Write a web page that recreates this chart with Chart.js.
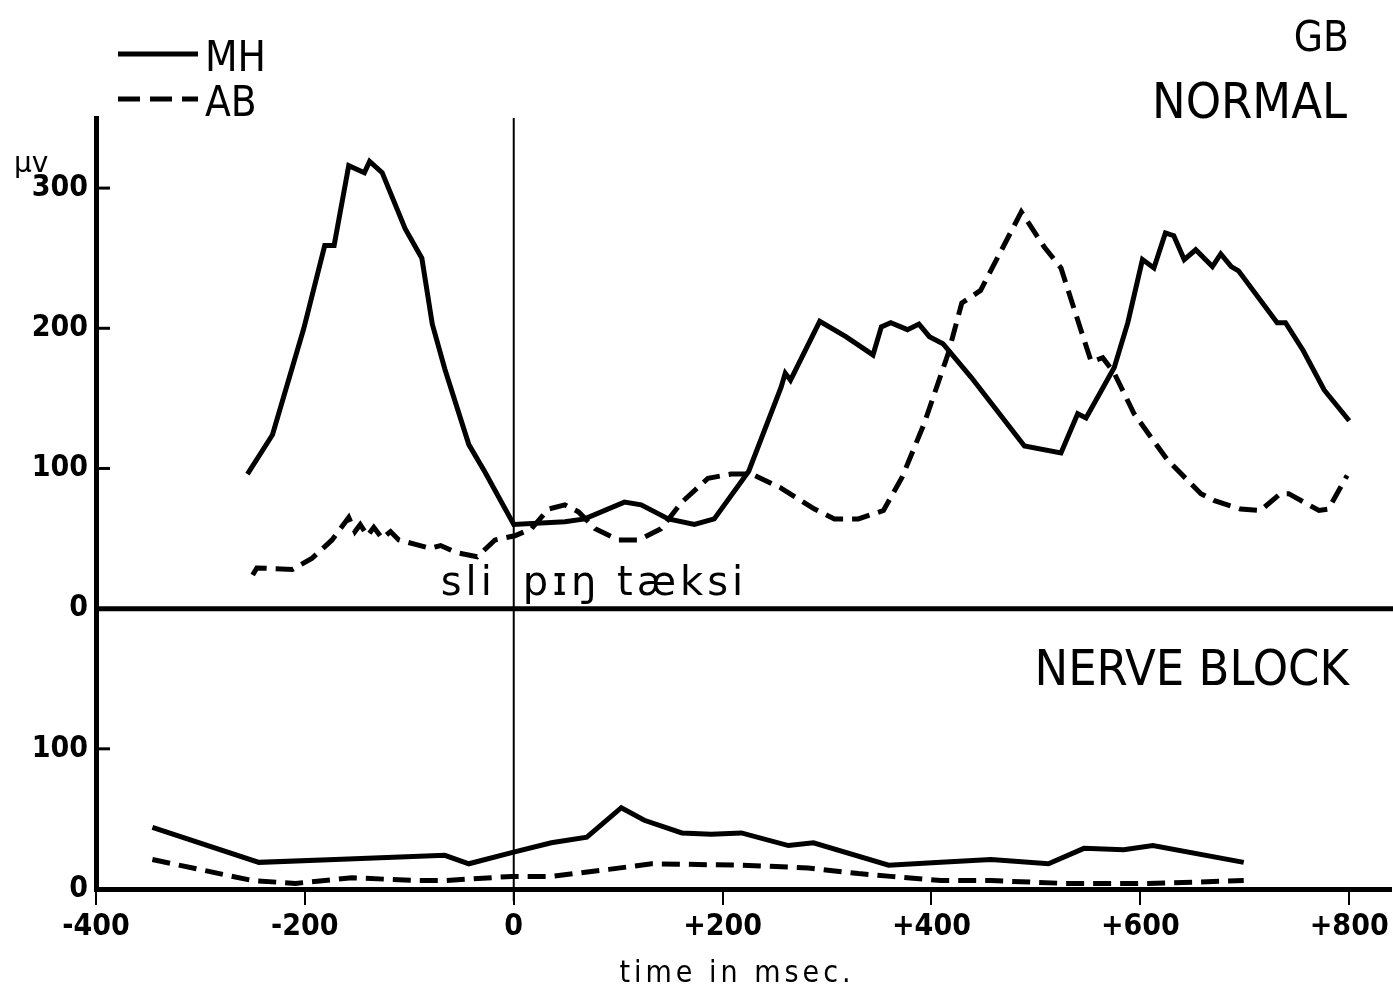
<!DOCTYPE html>
<html>
<head>
<meta charset="utf-8">
<script src="https://cdn.jsdelivr.net/npm/chart.js@4/dist/chart.umd.min.js"></script>
<style>
  body { margin: 0; background: #fff; }
  canvas { display: block; }
</style>
</head>
<body>
<canvas id="chart" width="1393" height="989"></canvas>
<script>
// tick labels
const xTicks = [-400, -200, 0, 200, 400, 600, 800];
const topTicks = [0, 100, 200, 300];
const botTicks = [0, 100];

// NORMAL - MH (solid)
const mhNormalT = [-255, -231, -201, -181, -172, -158, -143, -138, -126, -104, -88, -78, -66, -43, -28, 0, 49, 68, 106, 122, 148, 173, 192, 225, 256, 260, 265, 293, 318, 344, 352, 361, 377, 388, 398, 411, 438, 489, 524, 540, 548, 575, 588, 602, 613, 624, 632, 642, 653, 669, 677, 687, 694, 731, 739, 756, 776, 800];
const mhNormalV = [96, 124, 200, 259, 259, 316, 311, 319, 311, 271, 250, 203, 171, 117, 98, 60, 62, 64, 76, 74, 64, 60, 64, 98, 158, 168, 163, 205, 194, 181, 201, 204, 199, 203, 194, 189, 165, 116, 111, 139, 136, 172, 204, 249, 243, 268, 266, 249, 256, 244, 253, 244, 241, 204, 204, 184, 156, 134];

// NORMAL - AB (dashed)
const abNormalT = [-250, -246, -212, -193, -174, -158, -152, -147, -140, -134, -126, -118, -110, -95, -80, -70, -55, -35, -18, 1, 17, 33, 49, 62, 78, 100, 120, 141, 161, 186, 208, 228, 256, 288, 307, 330, 354, 372, 393, 416, 429, 447, 486, 508, 524, 543, 553, 564, 575, 594, 626, 658, 671, 696, 715, 734, 742, 771, 780, 798];
const abNormalV = [24, 29, 28, 36, 49, 65, 55, 60, 52, 58, 50, 55, 49, 46, 43, 45, 40, 37, 49, 52, 57, 71, 74, 69, 57, 49, 49, 57, 76, 93, 96, 96, 86, 71, 64, 64, 70, 94, 132, 182, 218, 227, 283, 258, 243, 199, 176, 179, 168, 139, 106, 82, 77, 71, 70, 82, 82, 70, 71, 95];

// NERVE BLOCK - MH
const mhBlockT = [-346, -244, -171, -66, -43, -2, 36, 70, 103, 125, 161, 189, 218, 263, 287, 359, 409, 457, 512, 546, 584, 612, 699];
const mhBlockV = [44, 19, 21, 24, 18, 26, 33, 37, 58, 49, 40, 39, 40, 31, 33, 17, 19, 21, 18, 29, 28, 31, 19];

// NERVE BLOCK - AB
const abBlockT = [-346, -250, -209, -155, -91, -66, -2, 36, 91, 132, 218, 282, 330, 361, 409, 457, 527, 607, 655, 699];
const abBlockV = [21, 6, 4, 8, 6, 6, 9, 9, 14, 18, 17, 15, 11, 9, 6, 6, 4, 4, 5, 6];

const COND = "'DejaVu Sans Condensed', 'DejaVu Sans', sans-serif";
const dash = [18, 9];

function pts(t, v) {
    return t.map((x, i) => ({ x: x, y: v[i] }));
}

function line(label, t, v, axis, dashed) {
    return {
        label: label,
        data: pts(t, v),
        yAxisID: axis,
        borderColor: "#000",
        borderWidth: 5,
        borderDash: dashed ? dash : [],
        pointRadius: 0,
        tension: 0,
        fill: false,
    };
}

function setTicks(list) {
    return function (scale) {
        scale.ticks = list.map(v => ({ value: v }));
    };
}

// texts, legend, zero line, inner ticks
const decor = {
    id: "decor",
    afterDraw(chart) {
        const ctx = chart.ctx;
        const area = chart.chartArea;
        const x = chart.scales.x;
        const yTop = chart.scales.yTop;
        const yBot = chart.scales.yBot;
        ctx.save();
        ctx.strokeStyle = "#000";
        ctx.fillStyle = "#000";

        // zero line of the NORMAL panel
        ctx.lineWidth = 5;
        ctx.beginPath();
        ctx.moveTo(area.left, yTop.getPixelForValue(0));
        ctx.lineTo(chart.width, yTop.getPixelForValue(0));
        ctx.stroke();

        // inward y ticks
        ctx.lineWidth = 3;
        [[yTop, topTicks], [yBot, botTicks]].forEach(([s, list]) => {
            list.filter(v => v > 0).forEach(v => {
                const py = s.getPixelForValue(v);
                ctx.beginPath();
                ctx.moveTo(area.left, py);
                ctx.lineTo(area.left + 14, py);
                ctx.stroke();
            });
        });

        // time zero
        const x0 = x.getPixelForValue(0);
        ctx.lineWidth = 2;
        ctx.beginPath();
        ctx.moveTo(x0, area.top);
        ctx.lineTo(x0, area.bottom + 12);
        ctx.stroke();

        // legend
        chart.data.datasets.slice(0, 2).forEach((ds, i) => {
            const ly = 54 + i * 45;
            ctx.lineWidth = 5;
            ctx.setLineDash(ds.borderDash.length ? [22, 10] : []);
            ctx.beginPath();
            ctx.moveTo(118, ly);
            ctx.lineTo(198, ly);
            ctx.stroke();
            ctx.setLineDash([]);
            ctx.font = "42px " + COND;
            ctx.textAlign = "left";
            ctx.textBaseline = "alphabetic";
            ctx.fillText(ds.label, 205, ly + 17);
        });

        ctx.textBaseline = "alphabetic";
        ctx.textAlign = "right";
        ctx.font = "42px " + COND;
        ctx.fillText("GB", 1349, 51);
        ctx.font = "50px " + COND;
        ctx.fillText("NORMAL", 1347, 118);
        ctx.fillText("NERVE BLOCK", 1349, 685);

        ctx.textAlign = "left";
        ctx.font = "28px 'DejaVu Sans', sans-serif";
        ctx.fillText("\u03bcv", 14, 172);

        ctx.font = "40px 'DejaVu Sans', sans-serif";
        ctx.letterSpacing = "4px";
        ctx.textAlign = "right";
        ctx.fillText("sli", x0 - 18, 595);
        ctx.textAlign = "left";
        ctx.fillText("p\u026a\u014b t\u00e6ksi", x0 + 9, 595);

        ctx.font = "30px " + COND;
        ctx.letterSpacing = "4px";
        ctx.textAlign = "center";
        ctx.fillText("time in msec.", 737, 982);
        ctx.restore();
    },
};

const tickFont = { family: COND, size: 30, weight: "bold" };

new Chart(document.getElementById("chart"), {
    type: "line",
    data: {
        datasets: [
            line("MH", mhNormalT, mhNormalV, "yTop", false),
            line("AB", abNormalT, abNormalV, "yTop", true),
            line("MH", mhBlockT, mhBlockV, "yBot", false),
            line("AB", abBlockT, abBlockV, "yBot", true),
        ],
    },
    options: {
        responsive: false,
        animation: false,
        layout: { padding: { top: 118, right: 2, left: 0, bottom: 0 } },
        plugins: { legend: { display: false }, tooltip: { enabled: false } },
        scales: {
            x: {
                type: "linear",
                min: -400,
                max: 840,
                afterBuildTicks: setTicks(xTicks),
                afterFit(s) { s.height = 100; },
                ticks: {
                    color: "#000",
                    font: tickFont,
                    padding: 4,
                    maxRotation: 0,
                    callback: v => (v > 0 ? "+" + v : String(v)),
                },
                grid: { display: true, drawOnChartArea: false, drawTicks: true, tickLength: 16, lineWidth: 2, color: "#000" },
                border: { display: true, width: 5, color: "#000" },
            },
            yBot: {
                type: "linear",
                position: "left",
                stack: "panels",
                stackWeight: 200,
                min: 0,
                max: 200,
                afterBuildTicks: setTicks(botTicks),
                afterFit(s) { s.width = 96; },
                ticks: { color: "#000", font: tickFont, padding: 8 },
                grid: { display: false, drawTicks: false },
                border: { display: true, width: 5, color: "#000" },
            },
            yTop: {
                type: "linear",
                position: "left",
                stack: "panels",
                stackWeight: 350,
                min: 0,
                max: 350,
                afterBuildTicks: setTicks(topTicks),
                afterFit(s) { s.width = 96; },
                ticks: { color: "#000", font: tickFont, padding: 8 },
                grid: { display: false, drawTicks: false },
                border: { display: true, width: 5, color: "#000" },
            },
        },
    },
    plugins: [decor],
});
</script>
</body>
</html>
